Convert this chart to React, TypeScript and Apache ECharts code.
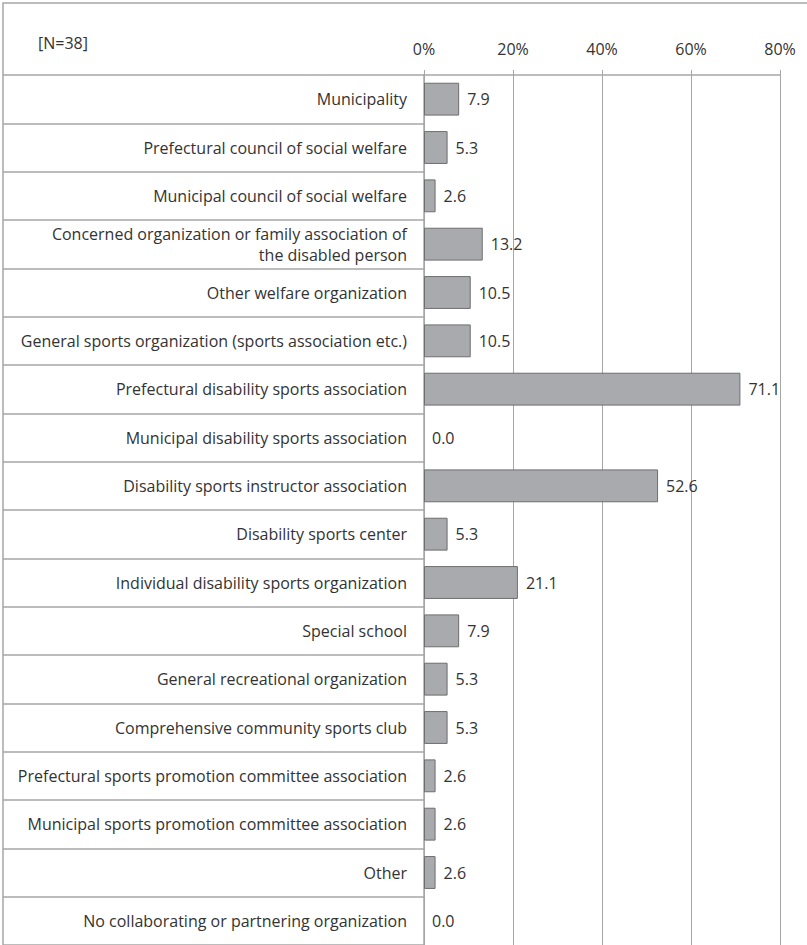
import React, { useEffect, useRef } from "react";
import * as echarts from "echarts";

const categories = [
  "Municipality",
  "Prefectural council of social welfare",
  "Municipal council of social welfare",
  "Concerned organization or family association of\nthe disabled person",
  "Other welfare organization",
  "General sports organization (sports association etc.)",
  "Prefectural disability sports association",
  "Municipal disability sports association",
  "Disability sports instructor association",
  "Disability sports center",
  "Individual disability sports organization",
  "Special school",
  "General recreational organization",
  "Comprehensive community sports club",
  "Prefectural sports promotion committee association",
  "Municipal sports promotion committee association",
  "Other",
  "No collaborating or partnering organization",
];

const values = [7.9, 5.3, 2.6, 13.2, 10.5, 10.5, 71.1, 0.0, 52.6, 5.3, 21.1, 7.9, 5.3, 5.3, 2.6, 2.6, 2.6, 0.0];

const sampleNote = "[N=38]";

const FONT = "Open Sans";
const TEXT = "#333333";
const LINE = "#a6a6a6";

export default function App() {
  const ref = useRef<HTMLDivElement>(null);
  useEffect(() => {
    if (!ref.current) return;
    const chart = echarts.init(ref.current, null, { renderer: "svg" });
    const gridTop = 75;
    const gridHeight = 873;
    chart.setOption({
      animation: false,
      textStyle: { fontFamily: FONT },
      graphic: [
        {
          type: "rect",
          shape: { x: 3, y: 3, width: 830, height: 980 },
          style: { fill: "none", stroke: LINE, lineWidth: 1.5 },
          silent: true,
          z: 0,
        },
        {
          type: "text",
          left: 38,
          top: 35,
          style: { text: sampleNote, fontSize: 16, fontFamily: FONT, fill: TEXT },
        },
      ],
      grid: [
        { left: 424, top: gridTop, width: 356, height: gridHeight },
        { left: 3, top: gridTop, width: 421, height: gridHeight },
      ],
      xAxis: [
        {
          type: "value",
          gridIndex: 0,
          position: "top",
          min: 0,
          max: 80,
          interval: 20,
          axisLine: { show: true, lineStyle: { color: LINE, width: 1.5 } },
          axisTick: { show: true, length: 5, lineStyle: { color: LINE } },
          axisLabel: {
            formatter: "{value}%",
            fontSize: 16,
            color: TEXT,
            margin: 18,
            fontFamily: FONT,
          },
          splitLine: { show: true, lineStyle: { color: LINE, width: 1 } },
        },
        {
          type: "value",
          gridIndex: 1,
          show: false,
          min: 0,
          max: 1,
        },
      ],
      yAxis: [
        {
          type: "category",
          gridIndex: 0,
          inverse: true,
          data: categories,
          axisLine: { show: true, lineStyle: { color: LINE, width: 1.5 } },
          axisTick: { show: false },
          axisLabel: {
            fontSize: 16,
            color: TEXT,
            margin: 17,
            fontFamily: FONT,
            lineHeight: 21,
            align: "right",
          },
        },
        {
          type: "category",
          gridIndex: 1,
          inverse: true,
          data: categories,
          axisLine: { show: false },
          axisTick: { show: false },
          axisLabel: { show: false },
          splitLine: { show: true, lineStyle: { color: LINE, width: 1.5 } },
        },
      ],
      series: [
        {
          type: "bar",
          xAxisIndex: 0,
          yAxisIndex: 0,
          data: values.map((v) =>
            v === 0 ? { value: v, itemStyle: { borderWidth: 0 } } : v
          ),
          barWidth: "68%",
          itemStyle: { color: "#a9aaad", borderColor: "#6e6e6e", borderWidth: 1 },
          label: {
            show: true,
            position: "right",
            distance: 8,
            fontSize: 16,
            color: TEXT,
            fontFamily: FONT,
            formatter: (p: any) => Number(p.value).toFixed(1),
          },
        },
      ],
    });
    return () => chart.dispose();
  }, []);
  return (
    <div
      ref={ref}
      style={{ position: "fixed", left: 0, top: 0, width: 807, height: 945, background: "#fff" }}
    />
  );
}
